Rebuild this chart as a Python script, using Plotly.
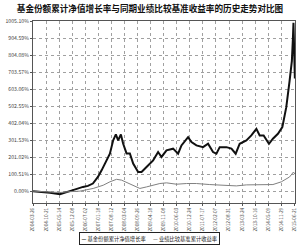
import plotly.graph_objects as go

fund_dates = ["2004-03-26","2004-07-14","2004-12-18","2005-05-24","2005-08-26","2005-12-14",
              "2006-05-20","2006-08-06","2006-10-23","2007-01-10","2007-03-09","2007-05-26",
              "2007-07-17","2007-09-07","2007-10-19","2007-11-24","2008-01-06","2008-02-11",
              "2008-04-04","2008-05-26","2008-07-17","2008-10-03","2008-11-26","2009-02-12",
              "2009-05-27","2009-08-13","2009-10-05","2009-12-23","2010-04-05","2010-06-23",
              "2010-08-15","2010-11-27","2011-01-19","2011-04-07","2011-07-20","2011-10-07",
              "2011-12-24","2012-02-15","2012-04-07","2012-07-21","2012-10-08","2012-12-14",
              "2013-02-15","2013-05-31","2013-08-17","2013-11-04","2013-12-26","2014-02-26",
              "2014-05-21","2014-07-22","2014-10-09","2014-12-17","2015-02-17","2015-04-10",
              "2015-05-16","2015-06-01","2015-06-10","2015-07-02"]
fund_values = [0, -3, -10, -18, -5, 6,
               25, 31, 45, 84, 123, 182,
               221, 300, 335, 300, 335, 280,
               223, 223, 163, 113, 113, 143,
               182, 231, 202, 241, 251, 221,
               270, 319, 290, 270, 260, 280,
               231, 221, 260, 260, 251, 221,
               280, 300, 329, 368, 329, 329,
               280, 310, 339, 378, 496, 652,
               770, 900, 995, 665]

bench_dates = ["2004-03-26","2004-09-30","2005-05-24","2005-10-28","2006-04-02","2006-10-28",
               "2007-04-03","2007-07-17","2007-10-30","2008-01-17","2008-04-04","2008-07-17",
               "2008-10-30","2009-02-12","2009-05-27","2009-09-09","2009-12-23","2010-05-29",
               "2010-11-02","2011-04-07","2011-11-02","2012-07-21","2012-12-25","2013-05-31",
               "2013-12-26","2014-07-22","2014-12-01","2015-04-10","2015-06-10","2015-07-02"]
bench_values = [0, -3, -8, -3, 0, 16,
                35, 55, 70, 65, 51, 35,
                16, 25, 35, 45, 49, 41,
                45, 45, 39, 35, 31, 37,
                39, 39, 55, 84, 113, 100]

x_tick_labels = ["2004-03-26","2004-10-21","2005-05-14","2005-12-08","2006-07-02","2007-01-18",
                 "2007-08-12","2008-03-04","2008-09-26","2009-04-18","2009-11-08","2010-06-03",
                 "2010-12-24","2011-07-17","2012-02-07","2012-08-31","2013-03-24","2013-10-16",
                 "2014-05-09","2014-11-29","2015-06-21"]
y_tick_values = [0, 100.51, 201.02, 301.53, 402.04, 502.55, 603.06, 703.57, 804.08, 904.59, 1005.10]
y_tick_labels = ["0.00%","100.51%","201.02%","301.53%","402.04%","502.55%","603.06%",
                 "703.57%","804.08%","904.59%","1005.10%"]

series_names = ["基金份额累计净值增长率", "业绩比较基准累计收益率"]
series_colors = ["#111111", "#808080"]
title_text = "基金份额累计净值增长率与同期业绩比较基准收益率的历史走势对比图"

fig = go.Figure()
fig.add_trace(go.Scatter(x=fund_dates, y=fund_values, mode="lines", name=series_names[0],
                         line=dict(color=series_colors[0], width=2), showlegend=False))
fig.add_trace(go.Scatter(x=bench_dates, y=bench_values, mode="lines", name=series_names[1],
                         line=dict(color=series_colors[1], width=1), showlegend=False))

legend_text = ("<span style='color:%s'><b>—</b></span> %s      <span style='color:%s'><b>—</b></span> %s"
               % (series_colors[0], series_names[0], series_colors[1], series_names[1]))
fig.add_annotation(text=legend_text, xref="paper", yref="paper", x=0.443, y=-0.162,
                   xanchor="center", yanchor="top", showarrow=False,
                   font=dict(size=5.3, color="#222"),
                   bordercolor="#222", borderwidth=1, borderpad=1.5, bgcolor="white")

font_family = "Noto Sans CJK SC, Noto Sans, sans-serif"
fig.update_layout(
    width=300, height=246,
    margin=dict(l=33, r=3, t=21, b=43),
    paper_bgcolor="white", plot_bgcolor="white",
    font=dict(family=font_family, size=5, color="#444"),
    title=dict(text="<b>" + title_text + "</b>", x=0.5, xanchor="center", y=0.965, yanchor="middle",
               font=dict(size=8.6, color="#111", family=font_family)),
    showlegend=False,
    xaxis=dict(type="date", range=["2004-03-26", "2015-07-04"],
               tickmode="array", tickvals=x_tick_labels, ticktext=x_tick_labels,
               tickangle=-90, tickfont=dict(size=4.6, color="#444"),
               showgrid=True, gridcolor="#a0a0a0", griddash="dot", gridwidth=0.6,
               showline=True, linecolor="#555", linewidth=1, mirror=True,
               ticks="outside", ticklen=2, tickcolor="#555", zeroline=False),
    yaxis=dict(range=[-70, 1005.10], tickmode="array", tickvals=y_tick_values, ticktext=y_tick_labels,
               tickfont=dict(size=5.2, color="#444"),
               showgrid=True, gridcolor="#a0a0a0", griddash="dot", gridwidth=0.6,
               showline=True, linecolor="#555", linewidth=1, mirror=True,
               ticks="outside", ticklen=2, tickcolor="#555", zeroline=False),
)

fig.write_html("out.html")
